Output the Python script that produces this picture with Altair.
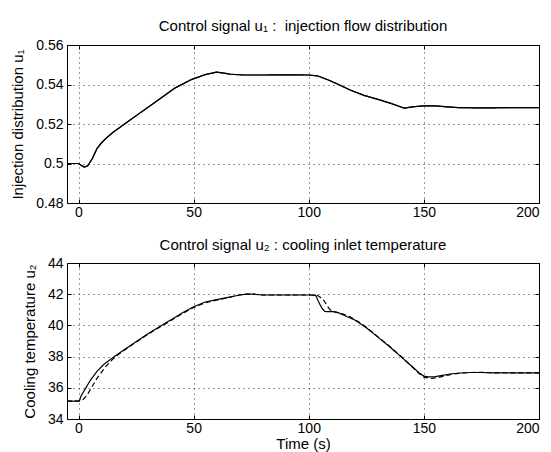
import altair as alt
import pandas as pd

# ---- data ----
t1 = [-5, 0, 1, 2.5, 4, 6, 8, 10, 12, 15, 20, 26, 34, 42, 49, 55, 60, 63, 66, 72,
      80, 90, 100, 104, 108, 112, 118, 124, 130, 136, 141.5, 145, 150, 155, 160,
      165, 172, 180, 190, 200]
u1 = [0.500, 0.500, 0.4992, 0.4982, 0.4988, 0.5025, 0.5075, 0.5105, 0.5128, 0.5158,
      0.5200, 0.5250, 0.5316, 0.5383, 0.5425, 0.5450, 0.5463, 0.5458, 0.5452, 0.5448,
      0.5448, 0.5449, 0.5448, 0.5443, 0.5425, 0.5405, 0.5372, 0.5345, 0.5325, 0.5303,
      0.5280, 0.5287, 0.5292, 0.5292, 0.5287, 0.5283, 0.5282, 0.5282, 0.5283, 0.5283]

t2 = [-5, 0, 0.5, 1, 2, 3, 4, 5, 6, 7, 8, 9, 10, 11, 12, 13, 15, 17, 20, 25, 30, 35,
      40, 45, 50, 55, 60, 65, 70, 73, 76, 80, 90, 100, 103, 104, 105, 106, 107, 108,
      110, 113, 116, 120, 125, 130, 135, 140, 145, 148, 150, 152, 155, 158, 162, 166,
      170, 175, 180, 190, 200]
u2_solid = [35.15, 35.15, 35.2, 35.45, 35.7, 35.95, 36.2, 36.45, 36.65, 36.85, 37.05,
            37.2, 37.35, 37.5, 37.62, 37.72, 37.95, 38.15, 38.45, 38.95, 39.45, 39.9,
            40.35, 40.8, 41.2, 41.5, 41.65, 41.8, 41.95, 42.0, 42.0, 41.95, 41.95, 41.95,
            41.93, 41.6, 41.3, 41.05, 40.9, 40.88, 40.9, 40.8, 40.6, 40.35, 39.85, 39.25,
            38.65, 38.0, 37.35, 36.95, 36.75, 36.7, 36.72, 36.8, 36.9, 36.95, 36.98,
            36.98, 36.96, 36.96, 36.96]
t3 = [-5, 0, 1, 2, 3, 4, 5, 6, 7, 8, 9, 10, 11, 12, 13, 15, 17, 20, 25, 30, 35, 40, 45,
      50, 55, 60, 65, 70, 73, 76, 80, 90, 100, 103, 104, 105, 106, 107, 108, 109, 110,
      112, 115, 118, 122, 125, 130, 135, 140, 145, 148, 150, 153, 156, 160, 165, 170,
      175, 180, 190, 200]
u2_dashed = [35.15, 35.15, 35.17, 35.25, 35.4, 35.6, 35.85, 36.1, 36.35, 36.6, 36.8,
             37.0, 37.2, 37.4, 37.55, 37.85, 38.1, 38.42, 38.93, 39.42, 39.87, 40.3,
             40.75, 41.15, 41.45, 41.62, 41.78, 41.95, 42.0, 42.0, 41.95, 41.95, 41.95,
             41.95, 41.9, 41.8, 41.7, 41.5, 41.25, 41.05, 40.92, 40.85, 40.72, 40.55,
             40.2, 39.88, 39.28, 38.68, 38.02, 37.33, 36.9, 36.68, 36.6, 36.65, 36.8,
             36.93, 36.98, 36.99, 36.97, 36.96, 36.96]

x_ticks = [0, 50, 100, 150, 200]
y1_ticks = [0.48, 0.50, 0.52, 0.54, 0.56]
y2_ticks = [34, 36, 38, 40, 42, 44]

title1 = "Control signal u\u2081 :\u00a0 injection flow distribution"
title2 = "Control signal u\u2082 : cooling inlet temperature"
ytitle1 = "Injection distribution u\u2081"
ytitle2 = "Cooling temperature u\u2082"
xtitle = "Time (s)"

FONT = "Liberation Sans"
W, H1, H2 = 472, 158, 156

df1 = pd.DataFrame({"t": t1, "v": u1})
df2s = pd.DataFrame({"t": t2, "v": u2_solid})
df2d = pd.DataFrame({"t": t3, "v": u2_dashed})

xscale = alt.Scale(domain=[-5, 200], nice=False, zero=False)


def main_axis(values, fmt=None, title=None, is_x=True):
    kw = dict(values=values, offset=-4, tickSize=4, tickColor="black", domain=False,
              grid=False, labelFont=FONT, labelFontSize=14, labelColor="black",
              labelPadding=2 if is_x else 4, titleFont=FONT, titleFontSize=15,
              titleFontWeight="normal", titleColor="black",
              titlePadding=1 if is_x else 10)
    if fmt:
        kw["format"] = fmt
    kw["title"] = title if title else None
    return alt.Axis(**kw)


def aux_axis(values, orient):
    return alt.Axis(values=values, orient=orient, offset=-4, tickSize=4,
                    tickColor="black", domain=False, labels=False, title=None,
                    grid=True, gridColor="black", gridDash=[1, 4], gridWidth=1,
                    gridOpacity=0.8)


def panel(solid_df, second_df, dashed, ydomain, yticks, yfmt, ytitle, title, h,
          xtitle_text=None, toff=4):
    yscale = alt.Scale(domain=ydomain, nice=False, zero=False)
    a = alt.Chart(solid_df).mark_line(color="black", strokeWidth=1.2).encode(
        x=alt.X("t:Q", scale=xscale, axis=main_axis(x_ticks, title=xtitle_text)),
        y=alt.Y("v:Q", scale=yscale,
                axis=main_axis(yticks, fmt=yfmt, title=ytitle, is_x=False)),
    )
    b = alt.Chart(second_df).mark_line(
        color="black", strokeWidth=1.2, strokeDash=[5, 3] if dashed else [1, 0]
    ).encode(
        x=alt.X("t:Q", scale=xscale, axis=aux_axis(x_ticks, "top")),
        y=alt.Y("v:Q", scale=yscale, axis=aux_axis(yticks, "right")),
    )
    return alt.layer(b, a).resolve_axis(x="independent", y="independent").properties(
        width=W, height=h,
        title=alt.TitleParams(title, font=FONT, fontSize=15, fontWeight="normal",
                              color="black", frame="group", anchor="middle",
                              offset=toff),
    )


top = panel(df1, df1, False, [0.48, 0.56], y1_ticks, ".2~f", ytitle1, title1, H1)
bottom = panel(df2s, df2d, True, [34, 44], y2_ticks, "d", ytitle2, title2, H2,
               xtitle_text=xtitle, toff=3)

chart = alt.vconcat(top, bottom, spacing=17).resolve_scale(
    x="independent", y="independent"
).properties(
    padding={"left": 2, "top": 10, "right": 0, "bottom": 0}
).configure_view(stroke="black", strokeWidth=1)

chart.save("out.html", embed_options={"renderer": "svg", "actions": False})
